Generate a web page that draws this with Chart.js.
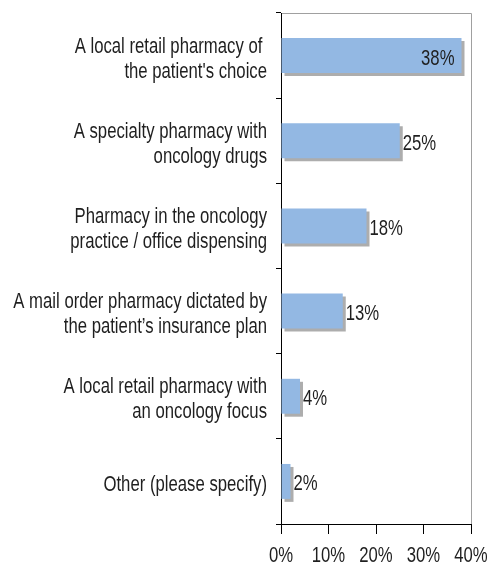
<!DOCTYPE html>
<html>
<head>
<meta charset="utf-8">
<script src="https://cdn.jsdelivr.net/npm/chart.js@4"></script>
<style>
  html, body { margin: 0; padding: 0; background: #fff; }
  #wrap { width: 490px; height: 563px; }
</style>
</head>
<body>
<div id="wrap"><canvas id="pharmacy" width="490" height="563"></canvas></div>
<script>
const categories = [
  ["A local retail pharmacy of ", "the patient's choice"],
  ["A specialty pharmacy with", "oncology drugs"],
  ["Pharmacy in the oncology", "practice / office dispensing"],
  ["A mail order pharmacy dictated by", "the patient\u2019s insurance plan"],
  ["A local retail pharmacy with", "an oncology focus"],
  ["Other (please specify)"]
];
const shares = [38, 25, 18, 13, 4, 2];
const xTicks = [0, 10, 20, 30, 40];

// no narrow face is installed, so text is squeezed horizontally
const FONT = "22px 'Liberation Sans', Arial, sans-serif";
const SQUEEZE = 0.76;
const INK = '#1f1f1f';

function narrowText(c, txt, x, y, align) {
  c.save();
  c.translate(x, y);
  c.scale(SQUEEZE, 1);
  c.font = FONT;
  c.fillStyle = INK;
  c.textAlign = align;
  c.textBaseline = 'alphabetic';
  c.fillText(txt, 0, 0);
  c.restore();
}

// gray drop shadow under each bar
const barShadow = {
  id: 'barShadow',
  beforeDatasetDraw(chart) {
    const c = chart.ctx;
    c.save();
    c.shadowColor = '#adadad';
    c.shadowOffsetX = 3;
    c.shadowOffsetY = 3;
    c.shadowBlur = 0;
  },
  afterDatasetDraw(chart) {
    chart.ctx.restore();
  }
};

// thin gray frame on the top and right of the plot area
const plotEdge = {
  id: 'plotEdge',
  beforeDatasetsDraw(chart) {
    const a = chart.chartArea, c = chart.ctx;
    c.save();
    c.strokeStyle = '#a0a0a0';
    c.lineWidth = 1;
    c.beginPath();
    c.moveTo(a.left + 1, a.top + 0.5);
    c.lineTo(a.right + 0.5, a.top + 0.5);
    c.lineTo(a.right + 0.5, a.bottom);
    c.stroke();
    c.restore();
  }
};

// category names, x tick labels and bar values
const textLayer = {
  id: 'textLayer',
  afterDraw(chart) {
    const c = chart.ctx;
    const xs = chart.scales.x, ys = chart.scales.y;

    categories.forEach((lines, i) => {
      const mid = ys.getPixelForValue(i) + 1.5;
      const lh = 25;
      const first = mid - (lines.length - 1) * lh / 2 + 8;
      lines.forEach((ln, k) => narrowText(c, ln, 267, first + k * lh, 'right'));
    });

    xTicks.forEach(v => narrowText(c, v + '%', xs.getPixelForValue(v), 562, 'center'));

    chart.getDatasetMeta(0).data.forEach((bar, i) => {
      const txt = shares[i] + '%';
      if (shares[i] >= 30) narrowText(c, txt, bar.x - 7, bar.y + 9, 'right');
      else narrowText(c, txt, bar.x + 3, bar.y + 9, 'left');
    });
  }
};

new Chart(document.getElementById('pharmacy'), {
  type: 'bar',
  data: {
    labels: categories,
    datasets: [{
      data: shares,
      backgroundColor: '#93b8e3',
      borderWidth: 0,
      categoryPercentage: 0.41,
      barPercentage: 1
    }]
  },
  options: {
    indexAxis: 'y',
    responsive: false,
    animation: false,
    layout: { padding: { top: 13, right: 19, left: 0, bottom: 0 } },
    plugins: { legend: { display: false }, tooltip: { enabled: false } },
    scales: {
      x: {
        min: 0,
        max: 40,
        afterFit(scale) { scale.height = 39; },
        afterBuildTicks(scale) { scale.ticks = xTicks.map(v => ({ value: v })); },
        border: { color: '#000', width: 1 },
        grid: { drawOnChartArea: false, color: '#000', tickLength: 10 },
        ticks: { display: false }
      },
      y: {
        afterFit(scale) { scale.width = 281; },
        border: { color: '#000', width: 1 },
        grid: { offset: true, drawOnChartArea: false, color: '#000', tickLength: 5 },
        ticks: { display: false }
      }
    }
  },
  plugins: [barShadow, plotEdge, textLayer]
});
</script>
</body>
</html>
